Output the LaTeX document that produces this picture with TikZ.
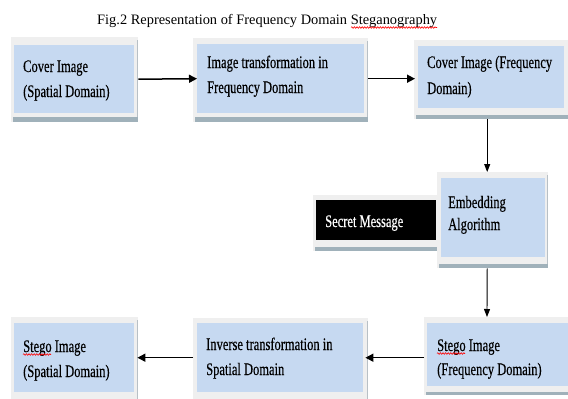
\documentclass[tikz,border=0pt]{standalone}
\usepackage{fontspec}
\setmainfont{Liberation Serif}
\newfontfamily\cfont[FakeStretch=0.71,FakeBold=0.4]{Liberation Serif}
\usetikzlibrary{arrows.meta,decorations.pathmorphing,calc}
\definecolor{blueC}{HTML}{C6D9F1}
\definecolor{frameC}{HTML}{EFEFEF}
\definecolor{shadowC}{HTML}{A0B1BA}
\definecolor{edgeC}{HTML}{B8C0C6}
\newcommand\twoln[3]{\vtop{\baselineskip=#1pt\hbox{#2}\hbox{#3}}}
\newcommand\myframebg[5]{%
  \fill[frameC] (#1,#2) rectangle (#3,#4);
  \fill[edgeC] ({#3-1.5},{#2+3}) rectangle (#3,#4);
  \fill[shadowC] ({#1+2},#5) rectangle (#3,#4);
}
\tikzset{
  box/.style={fill=blueC, inner sep=0, anchor=north west},
  txt/.style={inner sep=0, anchor=base west, font=\cfont\fontsize{17.6}{20}\selectfont},
  harr/.style={line width=1.5pt, -{Triangle[length=8pt,width=8pt]}},
  varr/.style={line width=0.9pt, -{Triangle[length=8pt,width=6pt]}},
  squig/.style={red, line width=0.6pt, decorate, decoration={snake, amplitude=0.8pt, segment length=2.6pt}}
}
\begin{document}
\begin{tikzpicture}[x=1pt,y=-1pt]
\clip (0,0) rectangle (568,399);
\fill[white] (0,0) rectangle (568,399);
% title
\node[inner sep=0, anchor=base west, font=\fontsize{14.4}{16}\selectfont] (title) at (97,24) {Fig.2 Representation of Frequency Domain Steganography};
\draw[squig] (351,27.5) -- (437,27.5);
% frames
\myframebg{11}{37}{138}{122}{117}
\myframebg{193}{38}{368}{122}{117}
\myframebg{414}{40}{572}{119}{115}
\myframebg{313}{195}{440}{251}{247}
\myframebg{437}{172}{548}{268}{264}
\myframebg{424}{317}{572}{395}{392}
\myframebg{193}{318}{368}{402}{402}
\myframebg{11}{317}{138}{402}{402}
% boxes
\node[box, minimum width=120pt, minimum height=68pt] (b1) at (14,45) {};
\node[box, minimum width=167pt, minimum height=69pt] (b2) at (197,44) {};
\node[box, minimum width=146pt, minimum height=62pt] (b3) at (418,46) {};
\node[box, fill=black, minimum width=120pt, minimum height=40pt] (sec) at (316,200) {};
\node[box, minimum width=104pt, minimum height=79pt] (emb) at (441,178) {};
\node[box, minimum width=150pt, minimum height=63pt] (b4) at (427,323) {};
\node[box, minimum width=166pt, minimum height=69pt] (b5) at (197,323) {};
\node[box, minimum width=120pt, minimum height=69pt] (b6) at (14,323) {};
% texts
\node[txt] (t1) at (23,72) {\twoln{25}{Cover Image}{(Spatial Domain)}};
\node[txt] (t2) at (207,68) {\twoln{25}{Image transformation in}{Frequency Domain}};
\node[txt] (t3) at (427,68) {\twoln{26}{Cover Image (Frequency}{Domain)}};
\node[txt, text=white] (ts) at (325,227) {Secret Message};
\node[txt] (te) at (448,208) {\twoln{22}{Embedding}{Algorithm}};
\node[txt] (t4) at (437,351) {\twoln{24}{Stego Image}{(Frequency Domain)}};
\node[txt] (t5) at (206,350) {\twoln{25}{Inverse transformation in}{Spatial Domain}};
\node[txt] (t6) at (23,352) {\twoln{25}{Stego Image}{(Spatial Domain)}};
\draw[squig] (23,354.5) -- (51,354.5);
\draw[squig] (437,353.5) -- (465,353.5);
% connectors
\coordinate (e4) at (487,317);
\draw[harr] ([xshift=4pt]b1.east) -- (b2.west);
\draw[harr] ([xshift=4pt]b2.east) -- ($(b3.west |- b2.east)+(-3,0)$);
\draw[varr] ([xshift=-4pt,yshift=-11pt]b3.south) -- ([xshift=-6pt,yshift=6pt]emb.north);
\draw[varr] ([xshift=-6pt,yshift=-11pt]emb.south) -- (e4);
\draw[harr] ($(b4.west |- b5.east)+(-3,0)$) -- ([xshift=2pt]b5.east);
\draw[harr] ([xshift=-4pt]b5.west) -- ([xshift=3pt]b6.east);
\end{tikzpicture}
\end{document}
